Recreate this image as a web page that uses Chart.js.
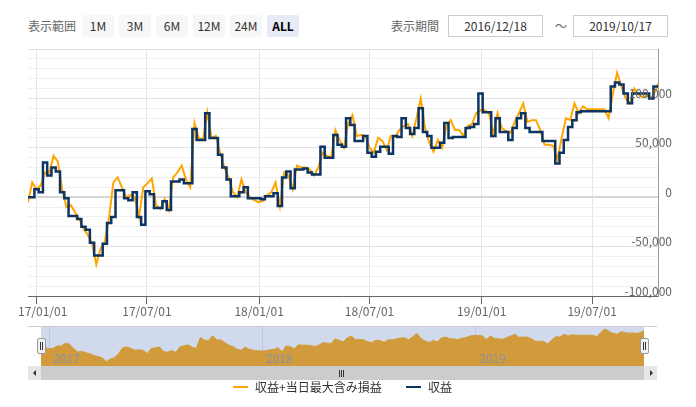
<!DOCTYPE html>
<html lang="ja">
<head>
<meta charset="utf-8">
<title>収益推移</title>
<script src="https://cdn.jsdelivr.net/npm/chart.js@4.4.1/dist/chart.umd.min.js"></script>
<style>
  html, body { margin: 0; padding: 0; background: #fff; }
  body {
    width: 696px; height: 407px; position: relative; overflow: hidden;
    font-family: "Noto Sans CJK JP", "Noto Sans", sans-serif; color: #333;
  }
  canvas { position: absolute; }
  #main { left: 0; top: 0; }
  #nav { left: 41px; top: 326px; }

  .txt { position: absolute; font-size: 12px; white-space: nowrap; }
  .hdr { top: 15px; height: 22px; line-height: 22px; color: #666; }
  .btn {
    position: absolute; top: 15px; width: 32px; height: 22px; line-height: 22px;
    text-align: center; font-size: 12px; background: #f7f7f7; color: #333; border-radius: 2px;
  }
  .btn.on { background: #e6ebf5; color: #000; font-weight: bold; }
  .date {
    position: absolute; top: 15px; width: 95px; height: 22px; line-height: 20px;
    box-sizing: border-box; border: 1px solid #ccc; text-align: center;
    font-size: 12px; color: #333;
  }

  /* navigator + scrollbar */
  #navMask { position: absolute; left: 41px; top: 326px; width: 603px; height: 40px; background: rgba(102,133,194,0.3); }
  #navTop { position: absolute; left: 28px; top: 326px; width: 629px; height: 1px; background: #ccc; }
  .handle {
    position: absolute; top: 338px; width: 7px; height: 14px;
    background: #f2f2f2; border: 1px solid #999; border-radius: 2px;
  }
  .handle i { position: absolute; left: 2px; top: 3px; width: 1px; height: 8px; border-left: 1px solid #333; border-right: 1px solid #333; }
  #track { position: absolute; left: 28px; top: 366px; width: 629px; height: 14px; background: #f2f2f2; }
  #bar { position: absolute; left: 41px; top: 366px; width: 603px; height: 14px; background: #ccc; }
  .sbtn { position: absolute; top: 366px; width: 13px; height: 14px; background: #e6e6e6; }
  .arrow { position: absolute; top: 4px; width: 0; height: 0; border-top: 3px solid transparent; border-bottom: 3px solid transparent; }
  .grip { position: absolute; top: 370px; width: 1px; height: 7px; background: #333; }

  /* legend */
  .lline { position: absolute; top: 386px; width: 15px; height: 2px; }
  .ltxt { top: 379px; line-height: 16px; color: #333; }
</style>
</head>
<body>

<div class="txt hdr" style="left:28px">表示範囲</div>
<div class="btn" style="left:82px">1M</div>
<div class="btn" style="left:119px">3M</div>
<div class="btn" style="left:156px">6M</div>
<div class="btn" style="left:193px">12M</div>
<div class="btn" style="left:230px">24M</div>
<div class="btn on" style="left:267px">ALL</div>

<div class="txt hdr" style="left:391px">表示期間</div>
<div class="date" style="left:448px">2016/12/18</div>
<div class="txt hdr" style="left:553px;width:16px;text-align:center">～</div>
<div class="date" style="left:573px">2019/10/17</div>

<canvas id="main" width="696" height="320"></canvas>
<canvas id="nav" width="603" height="40"></canvas>

<div id="navMask"></div>
<div id="navTop"></div>
<div class="handle" style="left:37px"><i></i></div>
<div class="handle" style="left:640px"><i></i></div>

<div id="track"></div>
<div id="bar"></div>
<div class="sbtn" style="left:28px"><div class="arrow" style="left:5px;border-right:3px solid #333"></div></div>
<div class="sbtn" style="left:644px"><div class="arrow" style="left:6px;border-left:3px solid #333"></div></div>
<div class="grip" style="left:339px"></div>
<div class="grip" style="left:341px"></div>
<div class="grip" style="left:343px"></div>

<div class="lline" style="left:233px;background:#ffa500"></div>
<div class="txt ltxt" style="left:255px">収益+当日最大含み損益</div>
<div class="lline" style="left:406px;background:#0e3562"></div>
<div class="txt ltxt" style="left:428px">収益</div>

<script>
// weekly samples, plus the last day
const dates = [
    "2016-12-18", "2016-12-25",
    "2017-01-01", "2017-01-08", "2017-01-15", "2017-01-22", "2017-01-29",
    "2017-02-05", "2017-02-12", "2017-02-19", "2017-02-26",
    "2017-03-05", "2017-03-12", "2017-03-19", "2017-03-26",
    "2017-04-02", "2017-04-09", "2017-04-16", "2017-04-23", "2017-04-30",
    "2017-05-07", "2017-05-14", "2017-05-21", "2017-05-28",
    "2017-06-04", "2017-06-11", "2017-06-18", "2017-06-25",
    "2017-07-02", "2017-07-09", "2017-07-16", "2017-07-23", "2017-07-30",
    "2017-08-06", "2017-08-13", "2017-08-20", "2017-08-27",
    "2017-09-03", "2017-09-10", "2017-09-17", "2017-09-24",
    "2017-10-01", "2017-10-08", "2017-10-15", "2017-10-22", "2017-10-29",
    "2017-11-05", "2017-11-12", "2017-11-19", "2017-11-26",
    "2017-12-03", "2017-12-10", "2017-12-17", "2017-12-24", "2017-12-31",
    "2018-01-07", "2018-01-14", "2018-01-21", "2018-01-28",
    "2018-02-04", "2018-02-11", "2018-02-18", "2018-02-25",
    "2018-03-04", "2018-03-11", "2018-03-18", "2018-03-25",
    "2018-04-01", "2018-04-08", "2018-04-15", "2018-04-22", "2018-04-29",
    "2018-05-06", "2018-05-13", "2018-05-20", "2018-05-27",
    "2018-06-03", "2018-06-10", "2018-06-17", "2018-06-24",
    "2018-07-01", "2018-07-08", "2018-07-15", "2018-07-22", "2018-07-29",
    "2018-08-05", "2018-08-12", "2018-08-19", "2018-08-26",
    "2018-09-02", "2018-09-09", "2018-09-16", "2018-09-23", "2018-09-30",
    "2018-10-07", "2018-10-14", "2018-10-21", "2018-10-28",
    "2018-11-04", "2018-11-11", "2018-11-18", "2018-11-25",
    "2018-12-02", "2018-12-09", "2018-12-16", "2018-12-23", "2018-12-30",
    "2019-01-06", "2019-01-13", "2019-01-20", "2019-01-27",
    "2019-02-03", "2019-02-10", "2019-02-17", "2019-02-24",
    "2019-03-03", "2019-03-10", "2019-03-17", "2019-03-24", "2019-03-31",
    "2019-04-07", "2019-04-14", "2019-04-21", "2019-04-28",
    "2019-05-05", "2019-05-12", "2019-05-19", "2019-05-26",
    "2019-06-02", "2019-06-09", "2019-06-16", "2019-06-23", "2019-06-30",
    "2019-07-07", "2019-07-14", "2019-07-21", "2019-07-28",
    "2019-08-04", "2019-08-11", "2019-08-18", "2019-08-25",
    "2019-09-01", "2019-09-08", "2019-09-15", "2019-09-22", "2019-09-29",
    "2019-10-06", "2019-10-13", "2019-10-17",
];

// 収益+当日最大含み損益 (orange)
const maxProfit = [
    -5000, 15000, 8000, 12000, 25000, 25000, 42000, 36000, 8000, -10000,
    -8000, -15000, -22000, -32000, -38000, -47000, -68000, -52000, -45000, -20000,
    15000, 20000, 10000, 0, 2000, 0, -20000, 10000, 14000, 19000,
    -8000, -12000, -2000, -13000, 20000, 25000, 32000, 18000, 10000, 75000,
    60000, 58000, 86000, 60000, 62000, 45000, 30000, 20000, 5000, 0,
    18000, 5000, 0, -3000, -5000, -4000, 2000, 5000, 15000, -9000,
    25000, 22000, 8000, 32000, 30000, 30000, 28000, 22000, 30000, 45000,
    42000, 40000, 68000, 58000, 50000, 75000, 83000, 62000, 63000, 62000,
    50000, 45000, 60000, 57000, 48000, 62000, 61000, 68000, 72000, 74000,
    62000, 80000, 100000, 70000, 55000, 46000, 58000, 50000, 72000, 78000,
    68000, 68000, 62000, 72000, 74000, 85000, 88000, 88000, 85000, 64000,
    85000, 70000, 67000, 65000, 76000, 85000, 95000, 76000, 78000, 78000,
    68000, 53000, 53000, 52000, 38000, 60000, 80000, 78000, 95000, 85000,
    92000, 89000, 89000, 89000, 89000, 89000, 80000, 105000, 126000, 112000,
    100000, 95000, 110000, 104000, 101000, 103000, 100000, 108000, 115000,
];

// 収益 (navy)
const profit = [
    0, 0, 8000, 5000, 35000, 22000, 30000, 26000, 5000, -1000,
    -19000, -19000, -22000, -30000, -33000, -46000, -59000, -59000, -47000, -26000,
    -20000, 7000, 7000, -1000, -3000, 5000, -20000, -28000, 6000, 3000,
    -11000, -11000, -4000, -13000, 16000, 16000, 18000, 14000, 14000, 69000,
    58000, 58000, 85000, 60000, 60000, 43000, 30000, 18000, 1000, 1000,
    5000, 10000, -1000, -1000, -1000, -2000, 1000, 1000, 4000, -9000,
    20000, 26000, 9000, 28000, 28000, 29000, 25000, 23000, 23000, 51000,
    40000, 40000, 63000, 53000, 51000, 80000, 73000, 57000, 57000, 62000,
    45000, 41000, 46000, 51000, 51000, 44000, 62000, 61000, 80000, 70000,
    64000, 70000, 90000, 66000, 62000, 50000, 50000, 55000, 75000, 60000,
    61000, 61000, 61000, 70000, 71000, 74000, 105000, 86000, 86000, 62000,
    80000, 66000, 66000, 58000, 70000, 80000, 85000, 70000, 66000, 66000,
    66000, 57000, 57000, 57000, 34000, 45000, 58000, 71000, 78000, 86000,
    87000, 87000, 87000, 87000, 87000, 87000, 87000, 112000, 116000, 114000,
    105000, 95000, 105000, 105000, 105000, 105000, 100000, 112000, 112000,
];

const tickDates  = ["2017-01-01", "2017-07-01", "2018-01-01", "2018-07-01", "2019-01-01", "2019-07-01"];
const tickLabels = ["17/01/01", "17/07/01", "18/01/01", "18/07/01", "19/01/01", "19/07/01"];
const yLabelValues = [-100000, -50000, 0, 50000, 100000];
const yearStarts = ["2017-01-01", "2018-01-01", "2019-01-01"];
const yearLabels = ["2017", "2018", "2019"];

const ORANGE = "#ffa500";
const NAVY = "#0e3562";

const toTime = d => Date.parse(d + "T00:00:00Z");
const xs = dates.map(toTime);
const xMin = xs[0];
const xMax = xs[xs.length - 1];

// ─── MAIN CHART ───────────────────────────────────────────
const axisLabels = {
    id: "axisLabels",
    afterDraw(chart) {
        const { ctx, scales: { x, y } } = chart;
        ctx.save();
        ctx.font = '12px "Noto Sans CJK JP", "Noto Sans", sans-serif';
        ctx.fillStyle = "#666";
        ctx.textBaseline = "middle";

        ctx.textAlign = "left";
        tickDates.forEach((d, i) => {
            const w = ctx.measureText(tickLabels[i]).width;
            let left = x.getPixelForValue(toTime(d)) - w / 2;
            if (left < 18) left = 18;   // keep first label inside the chart
            ctx.fillText(tickLabels[i], left, 311);
        });

        ctx.textAlign = "right";
        yLabelValues.forEach(v => {
            ctx.fillText(v.toLocaleString("en-US"), 672, y.getPixelForValue(v) - 5);
        });
        ctx.restore();
    },
};

new Chart(document.getElementById("main"), {
    type: "line",
    data: {
        datasets: [
            {
                label: "収益+当日最大含み損益",
                data: xs.map((x, i) => ({ x, y: maxProfit[i] })),
                borderColor: ORANGE,
                borderWidth: 2,
                pointRadius: 0,
                order: 1,
            },
            {
                label: "収益",
                data: xs.map((x, i) => ({ x, y: profit[i] })),
                borderColor: NAVY,
                borderWidth: 2.5,
                pointRadius: 0,
                stepped: "middle",
                order: 0,
            },
        ],
    },
    options: {
        responsive: false,
        animation: false,
        devicePixelRatio: 1,
        layout: { padding: { left: 28, top: 49, right: 0, bottom: 0 } },
        plugins: { legend: { display: false }, tooltip: { enabled: false } },
        scales: {
            x: {
                type: "linear",
                min: xMin,
                max: xMax,
                afterBuildTicks: s => { s.ticks = tickDates.map(d => ({ value: toTime(d) })); },
                afterFit: s => { s.height = 24; },
                ticks: { display: false },
                grid: { color: "#e6e6e6", tickLength: 8, tickColor: "#666" },
                border: { color: "#666", width: 1 },
            },
            y: {
                position: "right",
                min: -100000,
                max: 150000,
                afterBuildTicks: s => {
                    const t = [];
                    for (let v = -100000; v <= 150000; v += 10000) t.push({ value: v });
                    s.ticks = t;
                },
                afterFit: s => { s.width = 38; },
                ticks: { display: false },
                grid: {
                    drawTicks: false,
                    color: c => c.tick.value === 0 ? "#d6d6d6" : (c.tick.value % 50000 === 0 ? "#e2e2e2" : "#efefef"),
                    lineWidth: c => c.tick.value === 0 ? 2 : 1,
                },
                border: { color: "#999", width: 1 },
            },
        },
    },
    plugins: [axisLabels],
});

// ─── NAVIGATOR ────────────────────────────────────────────
const navYears = {
    id: "navYears",
    beforeDatasetsDraw(chart) {
        const { ctx, scales: { x }, chartArea } = chart;
        ctx.save();
        ctx.strokeStyle = "#e6e6e6";
        ctx.lineWidth = 1;
        yearStarts.forEach(d => {
            const px = Math.round(x.getPixelForValue(toTime(d))) + 0.5;
            ctx.beginPath();
            ctx.moveTo(px, chartArea.top);
            ctx.lineTo(px, chartArea.bottom);
            ctx.stroke();
        });
        ctx.restore();
    },
    afterDatasetsDraw(chart) {
        const { ctx, scales: { x } } = chart;
        ctx.save();
        ctx.font = '12px "Noto Sans CJK JP", "Noto Sans", sans-serif';
        ctx.fillStyle = "#999";
        ctx.textBaseline = "middle";
        yearStarts.forEach((d, i) => {
            ctx.fillText(yearLabels[i], x.getPixelForValue(toTime(d)) + 4, 32);
        });
        ctx.restore();
    },
};

new Chart(document.getElementById("nav"), {
    type: "line",
    data: {
        datasets: [{
            data: xs.map((x, i) => ({ x, y: maxProfit[i] })),
            borderColor: ORANGE,
            backgroundColor: ORANGE,
            borderWidth: 1,
            fill: "start",
            pointRadius: 0,
        }],
    },
    options: {
        responsive: false,
        animation: false,
        devicePixelRatio: 1,
        layout: { padding: 0 },
        plugins: { legend: { display: false }, tooltip: { enabled: false } },
        scales: {
            x: { type: "linear", display: false, min: xMin, max: xMax },
            y: { display: false, min: -94000, max: 144000 },
        },
    },
    plugins: [navYears],
});
</script>
</body>
</html>
